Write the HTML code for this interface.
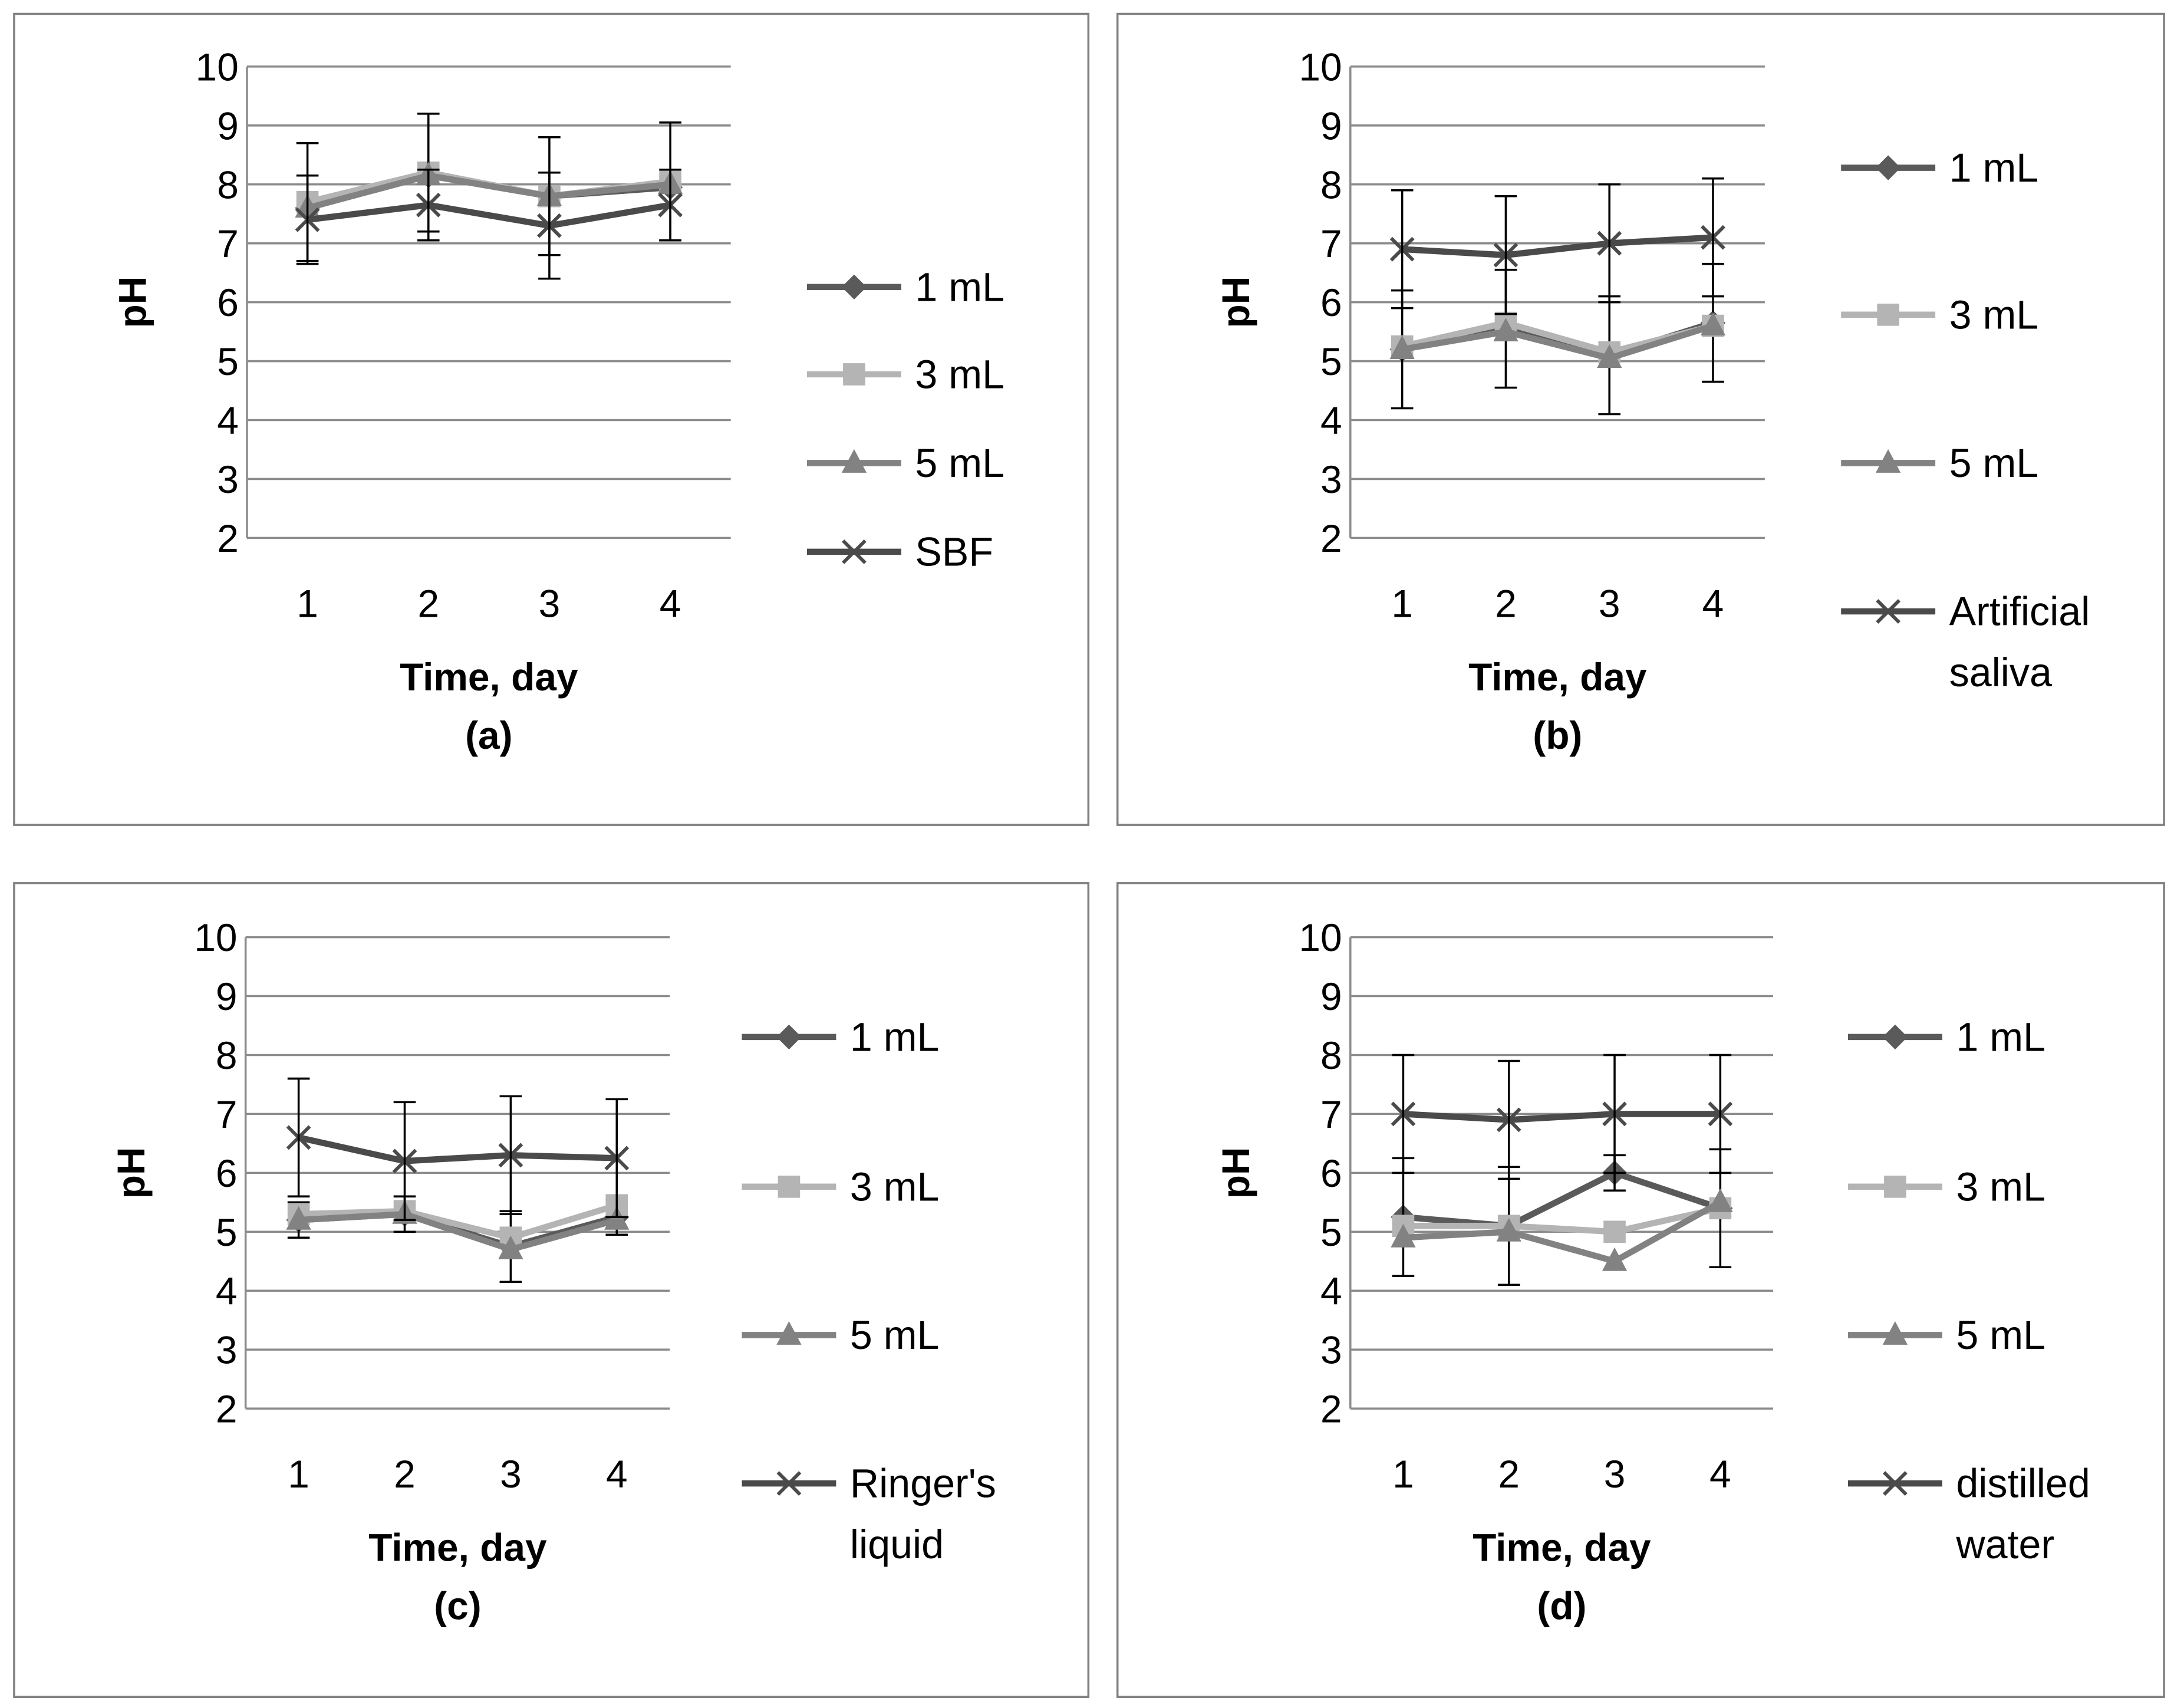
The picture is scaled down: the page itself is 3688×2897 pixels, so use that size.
<!DOCTYPE html>
<html><head><meta charset="utf-8"><style>
html,body{margin:0;padding:0;background:#fff}
svg{display:block}
text{font-family:"Liberation Sans",sans-serif}
</style></head><body>
<svg id="fig" width="3688" height="2897" viewBox="0 0 1568 1232" xmlns="http://www.w3.org/2000/svg"></svg>
<script>
const days = [1,2,3,4];
const yTicks = [2,3,4,5,6,7,8,9,10];
const seriesNames = ["1 mL","3 mL","5 mL"];
// panel a
const a1 = [7.6,8.15,7.8,7.95], a3 = [7.7,8.2,7.8,8.05], a5 = [7.6,8.15,7.8,8.0], a4 = [7.4,7.65,7.3,7.65];
const aErr = [1.0,1.0,1.0,1.0], a4Err = [0.75,0.6,0.9,0.6];
// panel b
const b1 = [5.2,5.55,5.1,5.65], b3 = [5.25,5.65,5.15,5.6], b5 = [5.2,5.5,5.05,5.6], b4 = [6.9,6.8,7.0,7.1];
const bErr = [1.0,1.0,1.0,1.0], b4Err = [1.0,1.0,1.0,1.0];
// panel c
const c1 = [5.2,5.3,4.75,5.25], c3 = [5.3,5.35,4.9,5.45], c5 = [5.2,5.3,4.7,5.2], c4 = [6.6,6.2,6.3,6.25];
const cErr = [0.3,0.3,0.6,0.3], c4Err = [1.0,1.0,1.0,1.0];
// panel d
const d1 = [5.25,5.1,6.0,5.4], d3 = [5.1,5.1,5.0,5.4], d5 = [4.9,5.0,4.5,5.5], d4 = [7.0,6.9,7.0,7.0];
const dErr = [1.0,1.0,0.3,1.0], d4Err = [1.0,1.0,1.0,1.0];

const svg = document.getElementById('fig');
const NS = "http://www.w3.org/2000/svg";
function el(tag, attrs, parent){const e=document.createElementNS(NS,tag);for(const k in attrs)e.setAttribute(k,attrs[k]);(parent||svg).appendChild(e);return e;}
const colors = ["#5a5a5a","#b4b4b4","#828282","#4a4a4a"];

function marker(g,type,x,y,col){
  let m;
  if(type==0) m=el('polygon',{points:`${x},${y-9} ${x+9},${y} ${x},${y+9} ${x-9},${y}`,fill:col},g);
  else if(type==1) m=el('rect',{x:x-8,y:y-8,width:16,height:16,fill:col},g);
  else if(type==2) m=el('polygon',{points:`${x},${y-10} ${x+9},${y+7} ${x-9},${y+7}`,fill:col},g);
  else { m=el('path',{d:`M${x-8} ${y-8}L${x+8} ${y+8}M${x+8} ${y-8}L${x-8} ${y+8}`,stroke:col,'stroke-width':2.5,fill:'none'},g); }
  
  
}

function panel(cfg){
  const g = el('g',{});
  
  
  const box = el('rect',{x:cfg.bx,y:cfg.by,width:cfg.bw,height:cfg.bh,fill:'#fff',stroke:'#808080','stroke-width':1.5},g);
  
  
  const sy = v => cfg.yb - (v-2)/8*(cfg.yb-cfg.yt);
  const step = (cfg.xr-cfg.xl)/days.length;
  const sx = i => cfg.xl + step*(i+0.5);
  yTicks.forEach(t=>{
    const l=el('line',{x1:cfg.xl,x2:cfg.xr,y1:sy(t),y2:sy(t),stroke:'#8c8c8c','stroke-width':1.5},g);
    
    
    const tx=el('text',{x:cfg.xl-6,y:sy(t)+10,'text-anchor':'end','font-size':28,fill:'#000'},g);
    tx.textContent=t;
    
    
  });
  const ax=el('line',{x1:cfg.xl,x2:cfg.xl,y1:cfg.yt,y2:cfg.yb,stroke:'#8c8c8c','stroke-width':1.5},g);
  
  
  days.forEach((d,i)=>{
    const tx=el('text',{x:sx(i),y:cfg.yb+57,'text-anchor':'middle','font-size':28},g);
    tx.textContent=d;
    
    
  });
  const cx=(cfg.xl+cfg.xr)/2;
  const xt=el('text',{x:cx,y:cfg.yb+110,'text-anchor':'middle','font-size':28,'font-weight':'bold'},g);
  xt.textContent="Time, day";
  
  
  const pl=el('text',{x:cx,y:cfg.yb+152,'text-anchor':'middle','font-size':28,'font-weight':'bold'},g);
  pl.textContent="("+cfg.id+")";
  
  
  const yc=(cfg.yt+cfg.yb)/2;
  const yt=el('text',{x:cfg.xl-82,y:yc+9,'text-anchor':'middle','font-size':28,'font-weight':'bold',transform:`rotate(-90 ${cfg.xl-82} ${yc})`},g);
  yt.textContent="pH";
  
  
  cfg.series.forEach((s,si)=>{
    const sg=el('g',{},g);
    
    
    const pts=s.vals.map((v,i)=>sx(i)+','+sy(v)).join(' ');
    const pl=el('polyline',{points:pts,fill:'none',stroke:colors[si],'stroke-width':4.5},sg);
    
    
    s.vals.forEach((v,i)=>marker(sg,si,sx(i),sy(v),colors[si]));
    if(s.err){
      s.vals.forEach((v,i)=>{
        const x=sx(i),y1=sy(v+s.err[i]),y2=sy(v-s.err[i]);
        const e=el('path',{d:`M${x} ${y1}L${x} ${y2}M${x-8} ${y1}L${x+8} ${y1}M${x-8} ${y2}L${x+8} ${y2}`,stroke:'#000','stroke-width':1.5,fill:'none'},sg);
        
        
      });
    }
  });
  const names=[...seriesNames,cfg.last];
  names.forEach((n,i)=>{
    const lg=el('g',{},g);
    
    
    const y=cfg.leg[i];
    el('line',{x1:cfg.lx,x2:cfg.lx+68,y1:y,y2:y,stroke:colors[i],'stroke-width':4.5},lg);
    marker(lg,i,cfg.lx+34,y,colors[i]);
    const lines=n.split("|");
    lines.forEach((ln,k)=>{
      const t=el('text',{x:cfg.lx+78,y:y+10+k*44,'font-size':29},lg);
      t.textContent=ln;
    });
  });
}

panel({id:'a',bx:10,by:10,bw:775,bh:585,xl:178,xr:527,yt:48,yb:388,lx:582,leg:[207,270,334,398],last:"SBF",
  series:[{vals:a1},{vals:a3,err:aErr},{vals:a5},{vals:a4,err:a4Err}]});
panel({id:'b',bx:806,by:10,bw:755,bh:585,xl:974,xr:1273,yt:48,yb:388,lx:1328,leg:[121,227,334,441],last:"Artificial|saliva",
  series:[{vals:b1,err:bErr},{vals:b3},{vals:b5},{vals:b4,err:b4Err}]});
panel({id:'c',bx:10,by:637,bw:775,bh:587,xl:177,xr:483,yt:676,yb:1016,lx:535,leg:[748,856,963,1070],last:"Ringer's|liquid",
  series:[{vals:c1,err:cErr},{vals:c3},{vals:c5},{vals:c4,err:c4Err}]});
panel({id:'d',bx:806,by:637,bw:755,bh:587,xl:974,xr:1279,yt:676,yb:1016,lx:1333,leg:[748,856,963,1070],last:"distilled|water",
  series:[{vals:d1,err:dErr},{vals:d3},{vals:d5},{vals:d4,err:d4Err}]});
</script>
</body></html>
